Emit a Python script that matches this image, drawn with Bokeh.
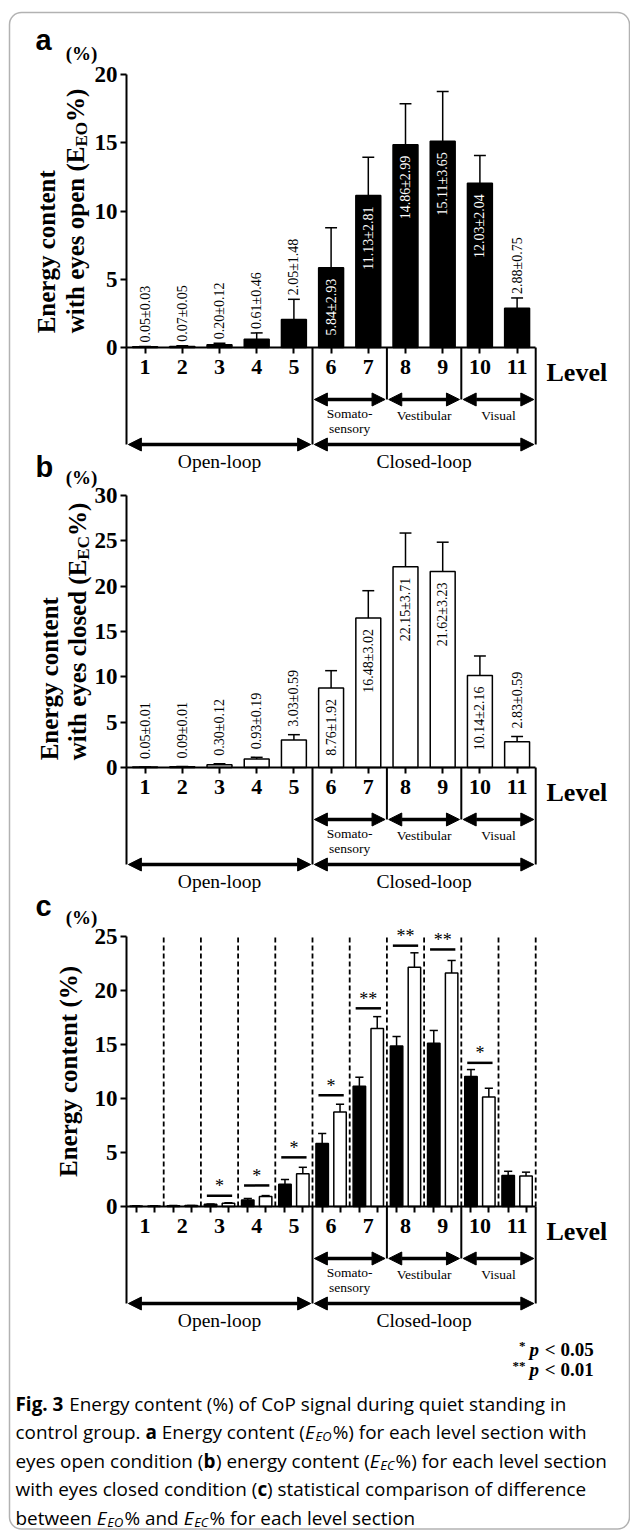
import math
from bokeh.plotting import figure
from bokeh.models import Range1d, LinearAxis, FixedTicker, Arrow, NormalHead, BoxAnnotation
from bokeh.core.properties import value
from bokeh.embed import file_html
from bokeh.resources import INLINE

# ---------------- data ----------------
levels = [1, 2, 3, 4, 5, 6, 7, 8, 9, 10, 11]
level_labels = ["1", "2", "3", "4", "5", "6", "7", "8", "9", "10", "11"]
eo_mean = [0.05, 0.07, 0.20, 0.61, 2.05, 5.84, 11.13, 14.86, 15.11, 12.03, 2.88]
eo_sd = [0.03, 0.05, 0.12, 0.46, 1.48, 2.93, 2.81, 2.99, 3.65, 2.04, 0.75]
ec_mean = [0.05, 0.09, 0.30, 0.93, 3.03, 8.76, 16.48, 22.15, 21.62, 10.14, 2.83]
ec_sd = [0.01, 0.01, 0.12, 0.19, 0.59, 1.92, 3.02, 3.71, 3.23, 2.16, 0.59]
eo_err_c = [0.01, 0.02, 0.04, 0.12, 0.45, 0.92, 0.84, 0.88, 1.19, 0.65, 0.38]
ec_err_c = [0.01, 0.01, 0.04, 0.08, 0.60, 0.71, 1.10, 1.34, 1.16, 0.81, 0.35]
sig_text = ["", "", "*", "*", "*", "*", "**", "**", "**", "*", ""]
sig_height = [None, None, 1.0, 1.95, 4.55, 10.3, 18.35, 24.15, 23.8, 13.3, None]
ticks_a = [0, 5, 10, 15, 20]
ticks_b = [0, 5, 10, 15, 20, 25, 30]
ticks_c = [0, 5, 10, 15, 20, 25]
section_bounds = [(5.5, 7.5), (7.5, 9.5), (9.5, 11.5)]
section_names = ["Vestibular", "Visual"]
somato_lines = ["Somato-", "sensory"]
loop_bounds = [(0.5, 5.5), (5.5, 11.5)]
loop_names = ["Open-loop", "Closed-loop"]
legend_marks = ["*", "**"]
legend_p = ["< 0.05", "< 0.01"]

# ---------------- layout constants ----------------
W, H = 630, 1530
AXX, SPX = 126.0, 37.2
SERIF, SANS, CAPF = "Liberation Serif", "Liberation Sans", "Open Sans"

TB = {' ': 250, '(': 333, ')': 333, '%': 1000, 'E': 667, 'O': 778, 'C': 722, 'L': 667,
      'a': 500, 'c': 444, 'd': 556, 'e': 444, 'g': 500, 'h': 556, 'i': 278, 'l': 278,
      'n': 556, 'o': 500, 'p': 556, 'r': 444, 's': 389, 't': 333, 'w': 722, 'y': 500,
      'v': 500, '<': 570, '.': 250, '0': 500, '1': 500, '5': 500, '*': 500}
OS = {' ': 532, '(': 606, ')': 606, '%': 1706, '.': 545, '3': 1171, 'E': 1139, 'C': 1292,
      'O': 1595, 'F': 1057, 'P': 1233, 'a': 1139, 'b': 1255, 'c': 975, 'd': 1255, 'e': 1149,
      'f': 694, 'g': 1122, 'h': 1257, 'i': 518, 'k': 1075, 'l': 518, 'm': 1905, 'n': 1257,
      'o': 1237, 'p': 1255, 'q': 1255, 'r': 836, 's': 977, 't': 723, 'u': 1257, 'v': 1026,
      'w': 1593, 'x': 1073, 'y': 1028, 'z': 977}


def tb_w(s, fs):
    return sum(TB.get(ch, 500) for ch in s) / 1000.0 * fs


def os_w(s, fs, bold=False):
    w = sum(OS.get(ch, 1100) for ch in s) / 2048.0 * fs
    return w * (1.07 if bold else 1.0)


p = figure(width=W, height=H, x_range=Range1d(0, W), y_range=Range1d(H, 0),
           x_axis_type=None, y_axis_type=None, min_border=0, toolbar_location=None,
           output_backend="svg", outline_line_color=None, title=None)
p.background_fill_color = "white"
p.border_fill_color = "white"
lv0 = 0.5 - AXX / SPX
p.extra_x_ranges = {"lv": Range1d(lv0, lv0 + W / SPX)}


def txt(x, y, s, size, font=SERIF, style="normal", color="black", align="left",
        baseline="middle", angle=0.0, xr="default", yr="default"):
    p.text(x=[x], y=[y], text=[s], text_font=value(font), text_font_size=f"{size}px",
           text_font_style=style, text_color=color, text_align=align,
           text_baseline=baseline, angle=angle, x_range_name=xr, y_range_name=yr)


def harrow(x0, x1, y):
    p.add_layout(Arrow(x_start=x0, x_end=x1, y_start=y, y_end=y, x_range_name="lv",
                       start=NormalHead(size=13, fill_color="black", line_color="black", line_width=1),
                       end=NormalHead(size=13, fill_color="black", line_color="black", line_width=1),
                       line_width=3.5, line_color="black"))


def style_axis(ax, size, standoff):
    ax.axis_line_color = "black"
    ax.axis_line_width = 2
    ax.major_tick_line_color = "black"
    ax.major_tick_line_width = 2
    ax.major_tick_in = 0
    ax.major_tick_out = 6
    ax.minor_tick_line_color = None
    ax.major_label_text_font = SERIF
    ax.major_label_text_font_style = "bold"
    ax.major_label_text_font_size = size
    ax.major_label_text_color = "black"
    ax.major_label_standoff = standoff


panels = {
    "a": dict(zero=347.0, top=74.0, ticks=ticks_a, letter="a", letter_y=39, pct_y=53,
              l1x=46, l2x=75, l2=[("with eyes open (E", 1.0, 0), ("EO", 0.68, 6), ("%)", 1.0, 0)]),
    "b": dict(zero=767.0, top=495.0, ticks=ticks_b, letter="b", letter_y=466, pct_y=477,
              l1x=49, l2x=76.5, l2=[("with eyes closed (E", 1.0, 0), ("EC", 0.68, 6), ("%)", 1.0, 0)]),
    "c": dict(zero=1206.0, top=936.0, ticks=ticks_c, letter="c", letter_y=905, pct_y=917,
              l1x=67.5, l2x=None, l2=None),
}

yr = {}
for name, cfg in panels.items():
    k = (cfg["zero"] - cfg["top"]) / max(cfg["ticks"])
    cfg["k"] = k
    yr[name] = Range1d(start=(cfg["zero"] - H) / k, end=cfg["zero"] / k)
p.extra_y_ranges = yr

# outer rounded frame
p.add_layout(BoxAnnotation(left=9, right=629, top=12, bottom=1528.5, fill_color=None,
                           line_color="black", line_width=1.5, border_radius=12))

YLAB = 25
for name, cfg in panels.items():
    zero, k = cfg["zero"], cfg["k"]
    ticks = cfg["ticks"]
    ya = LinearAxis(y_range_name=name, fixed_location=AXX, bounds=(0, max(ticks)),
                    ticker=FixedTicker(ticks=ticks))
    style_axis(ya, "23px", 3)
    p.add_layout(ya, "left")
    if name == "c":
        minor = [l - 0.24 for l in levels] + [l + 0.24 for l in levels]
    else:
        minor = []
    xa = LinearAxis(x_range_name="lv", y_range_name=name, fixed_location=0,
                    bounds=(0.5, 11.5),
                    ticker=FixedTicker(ticks=levels, minor_ticks=minor),
                    major_label_overrides={l: s for l, s in zip(levels, level_labels)})
    style_axis(xa, "22px", 6)
    if name == "c":
        xa.major_tick_line_color = None
        xa.minor_tick_line_color = "black"
        xa.minor_tick_line_width = 2
        xa.minor_tick_in = 0
        xa.minor_tick_out = 6
    p.add_layout(xa, "below")
    txt(546, zero + 25, "Level", 26, style="bold")

    txt(35, cfg["letter_y"], cfg["letter"], 29, font=SANS, style="bold", baseline="alphabetic")
    txt(81, cfg["pct_y"], "(%)", 19, style="bold", align="center")

    center = (cfg["zero"] + cfg["top"]) / 2.0
    if cfg["l2"] is not None:
        L2 = sum(tb_w(s, YLAB * sc) for s, sc, dx in cfg["l2"])
        y0 = center + L2 / 2.0
        txt(cfg["l1x"], y0, "Energy content", YLAB, style="bold", angle=math.pi / 2)
        yy = y0
        for s, sc, dx in cfg["l2"]:
            txt(cfg["l2x"] + dx, yy, s, YLAB * sc, style="bold", angle=math.pi / 2)
            yy -= tb_w(s, YLAB * sc)
    else:
        txt(cfg["l1x"], center, "Energy content (%)", YLAB, style="bold",
            align="center", angle=math.pi / 2)

    small_y, big_y = zero + 52, zero + 97
    p.segment(x0=[0.5, 5.5, 11.5, 7.5, 9.5], x1=[0.5, 5.5, 11.5, 7.5, 9.5],
              y0=[zero] * 5, y1=[big_y, big_y, big_y, small_y, small_y],
              x_range_name="lv", line_width=2, line_color="black")
    for a0, a1 in section_bounds:
        harrow(a0 + 0.05, a1 - 0.05, small_y)
    for a0, a1 in loop_bounds:
        harrow(a0 + 0.05, a1 - 0.05, big_y)
    sc_mid = [(a + b) / 2.0 for a, b in section_bounds]
    txt(sc_mid[0], zero + 65.5, somato_lines[0], 13.5, align="center", xr="lv")
    txt(sc_mid[0], zero + 81, somato_lines[1], 13.5, align="center", xr="lv")
    txt(sc_mid[1], zero + 68, section_names[0], 13.5, align="center", xr="lv")
    txt(sc_mid[2], zero + 68, section_names[1], 13.5, align="center", xr="lv")
    for (a0, a1), nm in zip(loop_bounds, loop_names):
        txt((a0 + a1) / 2.0, zero + 114, nm, 19.5, align="center", xr="lv")

# ---------------- panel a and b bars ----------------
for name, mean, sd, fill, in_col, out_off in (("a", eo_mean, eo_sd, "black", "white", 4),
                                              ("b", ec_mean, ec_sd, "white", "black", 8)):
    k = panels[name]["k"]
    hi = [m + s for m, s in zip(mean, sd)]
    p.vbar(x=levels, top=mean, bottom=0, width=0.67, x_range_name="lv", y_range_name=name,
           fill_color=fill, line_color="black", line_width=1.5)
    p.segment(x0=levels, x1=levels, y0=mean, y1=hi, x_range_name="lv", y_range_name=name,
              line_color="black", line_width=1.5)
    p.segment(x0=[l - 0.16 for l in levels], x1=[l + 0.16 for l in levels], y0=hi, y1=hi,
              x_range_name="lv", y_range_name=name, line_color="black", line_width=1.5)
    labels = [f"{m:.2f}\u00b1{s:.2f}" for m, s in zip(mean, sd)]
    ins = [m * k > 70 for m in mean]
    xi = [l for l, f in zip(levels, ins) if f]
    yi = [m - 11.0 / k for m, f in zip(mean, ins) if f]
    ti = [t for t, f in zip(labels, ins) if f]
    xo = [l for l, f in zip(levels, ins) if not f]
    yo = [h + out_off / k for h, f in zip(hi, ins) if not f]
    to = [t for t, f in zip(labels, ins) if not f]
    p.text(x=xi, y=yi, text=ti, angle=math.pi / 2, text_align="right", text_baseline="middle",
           text_font=value(SERIF), text_font_size="14px", text_color=in_col,
           x_range_name="lv", y_range_name=name)
    p.text(x=xo, y=yo, text=to, angle=math.pi / 2, text_align="left", text_baseline="middle",
           text_font=value(SERIF), text_font_size="14px", text_color="black",
           x_range_name="lv", y_range_name=name)

# ---------------- panel c ----------------
kc = panels["c"]["k"]
bounds_c = [l + 0.5 for l in levels]
p.segment(x0=bounds_c, x1=bounds_c, y0=[0] * len(bounds_c), y1=[max(ticks_c)] * len(bounds_c),
          x_range_name="lv", y_range_name="c", line_color="black", line_width=1.8,
          line_dash="5 3")
xb = [l - 0.24 for l in levels]
xw = [l + 0.24 for l in levels]
p.vbar(x=xb, top=eo_mean, bottom=0, width=0.335, x_range_name="lv", y_range_name="c",
       fill_color="black", line_color="black", line_width=1.5)
p.vbar(x=xw, top=ec_mean, bottom=0, width=0.335, x_range_name="lv", y_range_name="c",
       fill_color="white", line_color="black", line_width=1.5)
for xs, m, e in ((xb, eo_mean, eo_err_c), (xw, ec_mean, ec_err_c)):
    hi = [a + b for a, b in zip(m, e)]
    p.segment(x0=xs, x1=xs, y0=m, y1=hi, x_range_name="lv", y_range_name="c",
              line_color="black", line_width=1.5)
    p.segment(x0=[x - 0.11 for x in xs], x1=[x + 0.11 for x in xs], y0=hi, y1=hi,
              x_range_name="lv", y_range_name="c", line_color="black", line_width=1.5)
sx = [l for l, h in zip(levels, sig_height) if h is not None]
sh = [h for h in sig_height if h is not None]
st = [t for t, h in zip(sig_text, sig_height) if h is not None]
p.segment(x0=[x - 0.34 for x in sx], x1=[x + 0.34 for x in sx], y0=sh, y1=sh,
          x_range_name="lv", y_range_name="c", line_color="black", line_width=2.5)
p.text(x=sx, y=[h + 9.5 / kc for h in sh], text=st, text_align="center",
       text_baseline="alphabetic", text_font=value(SERIF), text_font_size="18px",
       text_color="black", x_range_name="lv", y_range_name="c")

for i, (mk, pv) in enumerate(zip(legend_marks, legend_p)):
    by = 1349 + 20 * i
    txt(525, by - 4, mk, 13, style="bold", align="right", baseline="alphabetic")
    txt(529, by, "p", 19, style="bold italic", baseline="alphabetic")
    txt(529 + tb_w("p ", 19), by, pv, 19, style="bold", baseline="alphabetic")

# ---------------- caption ----------------
caption = [
    [("Fig. 3", "b"), (" Energy content (%) of CoP signal during quiet standing in", "n")],
    [("control group. ", "n"), ("a", "b"), (" Energy content (", "n"), ("E", "i"), ("EO", "s"),
     ("%) for each level section with", "n")],
    [("eyes open condition (", "n"), ("b", "b"), (") energy content (", "n"), ("E", "i"),
     ("EC", "s"), ("%) for each level section", "n")],
    [("with eyes closed condition (", "n"), ("c", "b"), (") statistical comparison of difference", "n")],
    [("between ", "n"), ("E", "i"), ("EO", "s"), ("% and ", "n"), ("E", "i"), ("EC", "s"),
     ("% for each level section", "n")],
]


def piece_w(s, kind, fs):
    if kind == "s":
        return os_w(s, fs * 0.68)
    return os_w(s, fs, bold=(kind == "b"))


line4_w = sum(piece_w(s, kd, 1.0) for s, kd in caption[3])
CFS = round(570.0 / line4_w, 1)
cap_base = [1403, 1431.5, 1460, 1488.5, 1517]
for line, by in zip(caption, cap_base):
    x = 15.0
    for s, kind in line:
        lead = len(s) - len(s.lstrip(" "))
        trail = len(s) - len(s.rstrip(" "))
        core = s.strip(" ")
        x += os_w(" " * lead, CFS)
        if kind == "s":
            txt(x, by + 4, core, round(CFS * 0.68, 1), font=CAPF, style="italic", baseline="alphabetic")
        else:
            stl = {"n": "normal", "b": "bold", "i": "italic"}[kind]
            txt(x, by, core, CFS, font=CAPF, style=stl, baseline="alphabetic")
        x += piece_w(core, kind, CFS)
        x += os_w(" " * trail, CFS)

open("out.html", "w").write(file_html(p, INLINE))
